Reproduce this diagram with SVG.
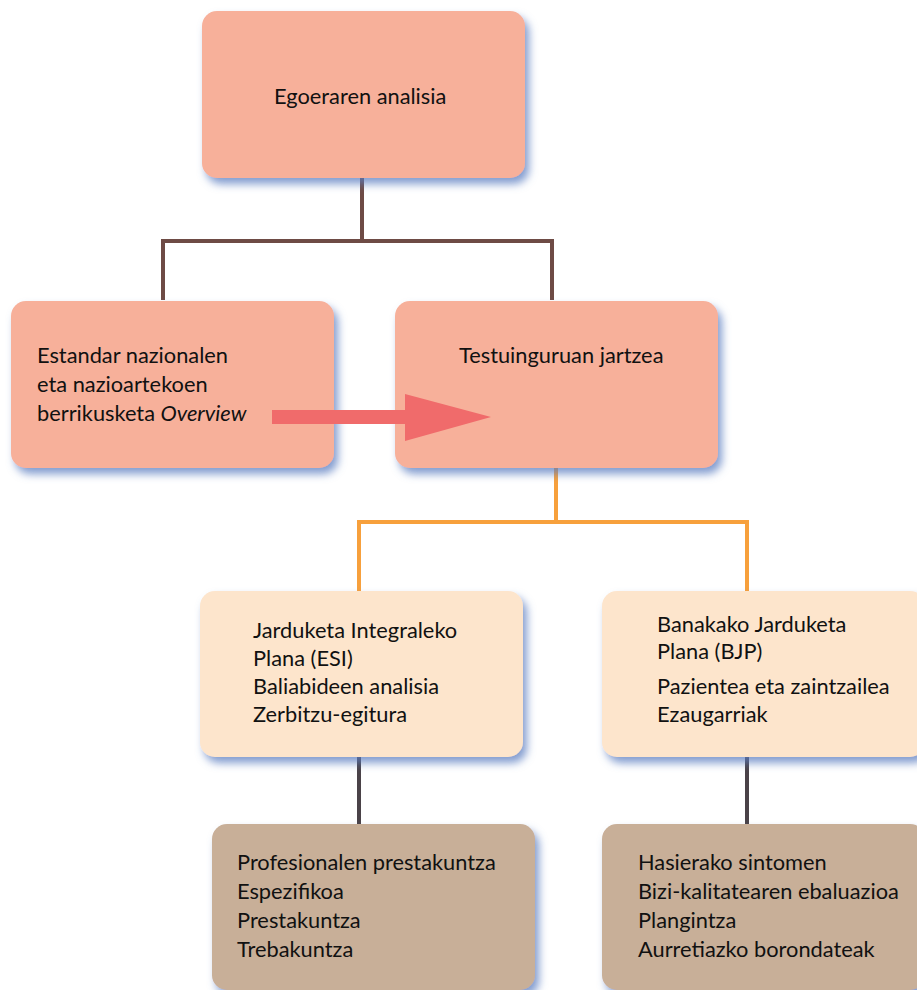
<svg xmlns="http://www.w3.org/2000/svg" width="917" height="990" viewBox="0 0 917 990">
<defs>
<filter id="sh" x="-10%" y="-10%" width="125%" height="130%">
<feDropShadow dx="4" dy="6" stdDeviation="4" flood-color="#5a7cc0" flood-opacity="0.75"/>
</filter>
<style>
.t{font-family:Lato,"Liberation Sans",sans-serif;font-size:21.8px;fill:#111}
.salmon{fill:#F7B09A;filter:url(#sh)}
.peach{fill:#FDE5CC;filter:url(#sh)}
.tan{fill:#C8AF98;filter:url(#sh)}
.dk{stroke:#6E4B45;stroke-width:4;fill:none}
.or{stroke:#F7A03C;stroke-width:4;fill:none}
.dk2{stroke:#4a4248;stroke-width:4;fill:none}
</style>
</defs>
<rect width="917" height="990" fill="#fff"/>
<g id="connectors">
<path class="dk" d="M362,178 V241 M163,300 V241 H552 V300"/>
<path class="or" d="M556,468 V522 M359,591 V522 H747 V591"/>
<path class="dk2" d="M359,757 V824 M747,757 V824"/>
</g>
<g id="n1">
<rect class="salmon" x="202" y="11" width="323" height="167" rx="15"/>
<text class="t" x="274" y="104">Egoeraren analisia</text>
</g>
<g id="n2">
<rect class="salmon" x="11" y="301" width="323" height="167" rx="15"/>
<text class="t" x="37" y="363">Estandar nazionalen</text>
<text class="t" x="37" y="392">eta nazioartekoen</text>
<text class="t" x="37" y="421">berrikusketa <tspan font-style="italic">Overview</tspan></text>
</g>
<g id="n3">
<rect class="salmon" x="395" y="301" width="323" height="167" rx="15"/>
<text class="t" x="459" y="363">Testuinguruan jartzea</text>
</g>
<g id="arrow">
<path d="M272,410 H405 V394 L491,417 L405,441 V424 H272 Z" fill="#F06B6B"/>
</g>
<g id="n4">
<rect class="peach" x="200" y="591" width="323" height="166" rx="15"/>
<text class="t" x="253" y="638">Jarduketa Integraleko</text>
<text class="t" x="253" y="666">Plana (ESI)</text>
<text class="t" x="253" y="694">Baliabideen analisia</text>
<text class="t" x="253" y="722">Zerbitzu-egitura</text>
</g>
<g id="n5">
<rect class="peach" x="602" y="591" width="323" height="166" rx="15"/>
<text class="t" x="657" y="632">Banakako Jarduketa</text>
<text class="t" x="657" y="659">Plana (BJP)</text>
<text class="t" x="657" y="694">Pazientea eta zaintzailea</text>
<text class="t" x="657" y="722">Ezaugarriak</text>
</g>
<g id="n6">
<rect class="tan" x="212" y="824" width="323" height="166" rx="15"/>
<text class="t" x="237" y="870">Profesionalen prestakuntza</text>
<text class="t" x="237" y="899">Espezifikoa</text>
<text class="t" x="237" y="928">Prestakuntza</text>
<text class="t" x="237" y="957">Trebakuntza</text>
</g>
<g id="n7">
<rect class="tan" x="602" y="824" width="323" height="166" rx="15"/>
<text class="t" x="638" y="870">Hasierako sintomen</text>
<text class="t" x="638" y="899">Bizi-kalitatearen ebaluazioa</text>
<text class="t" x="638" y="928">Plangintza</text>
<text class="t" x="638" y="957">Aurretiazko borondateak</text>
</g>
</svg>
